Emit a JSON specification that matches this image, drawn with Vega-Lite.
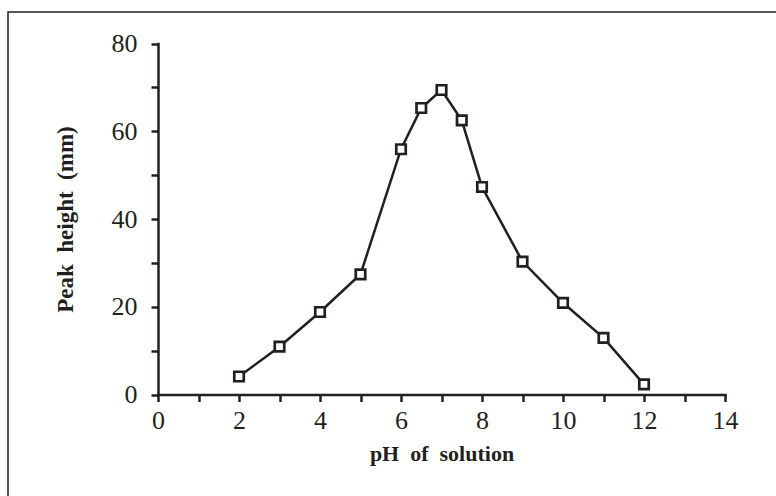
{
  "$schema": "https://vega.github.io/schema/vega-lite/v6.json",
  "width": 780,
  "height": 496,
  "autosize": {"type": "none"},
  "padding": {"left": 8, "top": 12, "right": -12, "bottom": -12},
  "background": "white",
  "config": {
    "view": {"stroke": "#231f20", "strokeWidth": 1.5},
    "font": "Liberation Serif"
  },
  "data": {
    "values": [
      {"pH": 2, "peak": 4.1},
      {"pH": 3, "peak": 10.9},
      {"pH": 4, "peak": 18.8},
      {"pH": 5, "peak": 27.4},
      {"pH": 6, "peak": 55.9},
      {"pH": 6.5, "peak": 65.3},
      {"pH": 7, "peak": 69.4},
      {"pH": 7.5, "peak": 62.5},
      {"pH": 8, "peak": 47.3},
      {"pH": 9, "peak": 30.3},
      {"pH": 10, "peak": 20.9},
      {"pH": 11, "peak": 12.9},
      {"pH": 12, "peak": 2.3}
    ]
  },
  "encoding": {
    "x": {
      "field": "pH",
      "type": "quantitative",
      "scale": {"domain": [0, 14], "range": [150, 717], "nice": false, "zero": false},
      "axis": {
        "title": "pH\u00a0 of\u00a0 solution",
        "titleFont": "Liberation Serif",
        "titleFontSize": 22,
        "titleFontWeight": "bold",
        "titleColor": "#231f20",
        "titlePadding": 10,
        "values": [0, 1, 2, 3, 4, 5, 6, 7, 8, 9, 10, 11, 12, 13, 14],
        "labelExpr": "datum.value % 2 == 0 ? datum.label : ''",
        "labelFont": "Liberation Serif",
        "labelFontSize": 26,
        "labelColor": "#231f20",
        "labelPadding": 6,
        "labelOverlap": false,
        "labelFlush": false,
        "tickSize": 7,
        "tickWidth": 2.5,
        "tickColor": "#231f20",
        "domainWidth": 2.5,
        "domainColor": "#231f20",
        "domainCap": "square",
        "grid": false,
        "orient": "bottom",
        "offset": -113.5
      }
    },
    "y": {
      "field": "peak",
      "type": "quantitative",
      "scale": {"domain": [0, 80], "range": [382.5, 31.5], "nice": false, "zero": false},
      "axis": {
        "title": "Peak\u00a0 height\u00a0 (mm)",
        "titleFont": "Liberation Serif",
        "titleFontSize": 23,
        "titleFontWeight": "bold",
        "titleColor": "#231f20",
        "titlePadding": 34,
        "values": [0, 10, 20, 30, 40, 50, 60, 70, 80],
        "labelExpr": "datum.value % 20 == 0 ? datum.label : ''",
        "labelFont": "Liberation Serif",
        "labelFontSize": 26,
        "labelColor": "#231f20",
        "labelPadding": 14,
        "labelOverlap": false,
        "labelFlush": false,
        "tickSize": 7,
        "tickWidth": 2.5,
        "tickColor": "#231f20",
        "domainWidth": 2.5,
        "domainColor": "#231f20",
        "domainCap": "square",
        "grid": false,
        "orient": "left",
        "offset": -150
      }
    }
  },
  "layer": [
    {
      "mark": {"type": "line", "color": "#231f20", "strokeWidth": 2.5}
    },
    {
      "mark": {"type": "point", "shape": "square", "filled": true, "fill": "white", "stroke": "#231f20", "strokeWidth": 2.7, "size": 90, "opacity": 1}
    }
  ]
}
